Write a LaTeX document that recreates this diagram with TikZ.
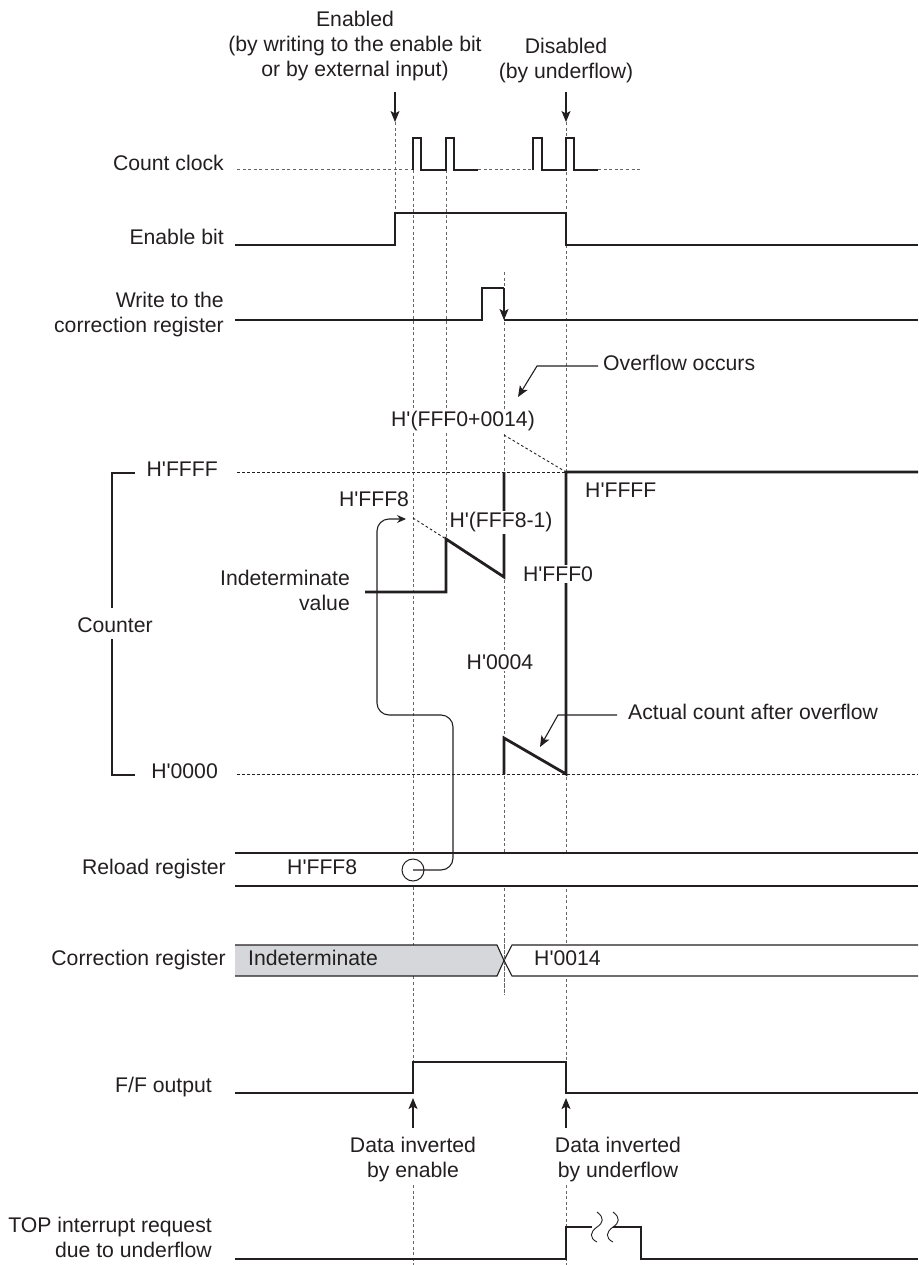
\documentclass[tikz,border=0pt]{standalone}
\usepackage{fontspec}
\setmainfont{Liberation Sans}[Ligatures=TeXOff]
\usetikzlibrary{arrows.meta}
\definecolor{ink}{RGB}{35,31,32}
\definecolor{corrgray}{RGB}{213,215,219}
\begin{document}
\begin{tikzpicture}[x=1pt,y=-1pt,
  sig/.style={line width=1.1pt, draw=ink},
  cnt/.style={line width=2.8pt, draw=ink, line join=miter},
  vdash/.style={line width=1pt, draw=black!60, dash pattern=on 3pt off 2.6pt},
  hdash/.style={line width=0.9pt, draw=ink, dash pattern=on 2.6pt off 2.4pt},
  arr/.style={line width=1.1pt, draw=ink, -{Stealth[length=11pt,width=9pt,inset=2.5pt]}},
  small arr/.style={line width=1.1pt, draw=ink, -{Stealth[length=9pt,width=8pt,inset=3pt]}},
  lbl/.style={font=\fontsize{21.2pt}{25pt}\selectfont, text=ink, inner sep=0pt},
  cover/.style={lbl, fill=white, inner sep=1.5pt},
]
\useasboundingbox (0,0) rectangle (918,1265);

% ---------- vertical guide lines ----------
\draw[vdash] (395,122) -- (395,213);
\draw[vdash] (413,170) -- (413,1062);
\draw[vdash] (413,1185) -- (413,1265);
\draw[vdash] (446,170) -- (446,539);
\draw[vdash] (504,272) -- (504,995);
\draw[vdash] (566,122) -- (566,1062);
\draw[vdash] (566,1185) -- (566,1265);

% ---------- top labels and arrows ----------
\node[lbl, align=center] (enabled) at (355,46) {Enabled\\(by writing to the enable bit\\or by external input)};
\node[lbl, align=center] (disabled) at (566,61) {Disabled\\(by underflow)};
\coordinate (ena0) at (395,92);  \coordinate (ena1) at (395,122);
\coordinate (dis0) at (566,92);  \coordinate (dis1) at (566,122);
\draw[arr] (ena0) -- (ena1);
\draw[arr] (dis0) -- (dis1);

% ---------- count clock ----------
\node[lbl, anchor=mid east] (lclk) at (224,168) {Count clock};
\draw[vdash] (237,170) -- (413,170);
\draw[sig] (413,170) -- (413,138) -- (421,138) -- (421,170) -- (446,170) -- (446,138) -- (454,138) -- (454,170) -- (478,170);
\draw[vdash] (478,170) -- (533,170);
\draw[sig] (533,170) -- (533,138) -- (542,138) -- (542,170) -- (566,170) -- (566,138) -- (574,138) -- (574,170) -- (598,170);
\draw[vdash] (598,170) -- (640,170);

% ---------- enable bit ----------
\node[lbl, anchor=mid east] (lena) at (224,242) {Enable bit};
\draw[sig] (235,245) -- (395,245) -- (395,213) -- (566,213) -- (566,245) -- (918,245);

% ---------- write to correction register ----------
\node[lbl, anchor=east, align=right] (lwr) at (224,315) {Write to the\\correction register};
\draw[sig] (235,320) -- (482,320) -- (482,288) -- (504,288);
\coordinate (wr0) at (504,288); \coordinate (wr1) at (504,320);
\draw[arr] (wr0) -- (wr1);
\draw[sig] (504,320) -- (918,320);

% ---------- counter ----------
\draw[hdash] (237,472) -- (566,472);
\draw[hdash] (237,774) -- (918,774);
\draw[hdash] (504,435) -- (566,472);
\draw[hdash] (413,518) -- (446,539);

\draw[cnt] (365,592) -- (446,592) -- (446,539) -- (504,577) -- (504,472);
\draw[cnt] (504,774) -- (504,738) -- (566,774) -- (566,472) -- (918,472);

\node[lbl, anchor=mid east] (lffff) at (218,474) {H'FFFF};
\node[lbl, anchor=mid east] (l0000) at (218,776) {H'0000};
\node[lbl] (lcounter) at (115,625) {Counter};
\draw[sig] (135,473) -- (112,473) -- (112,608);
\draw[sig] (112,639) -- (112,775) -- (135,775);

\node[lbl, anchor=mid west] (ovf) at (603,368) {Overflow occurs};
\coordinate (ovf0) at (598,366); \coordinate (ovf1) at (537,366); \coordinate (ovf2) at (518,397);
\draw[arr] (ovf0) -- (ovf1) -- (ovf2);
\node[cover, anchor=mid] (fff0p) at (463,424) {H'(FFF0+0014)};
\node[lbl, anchor=mid west] (ffffr) at (585,495) {H'FFFF};
\node[lbl, anchor=mid] (fff8) at (374,504) {H'FFF8};
\node[cover, anchor=mid] (fff8m) at (501,525) {H'(FFF8-1)};
\node[lbl, anchor=east, align=right] (indv) at (350,590) {Indeterminate\\value};
\node[cover, anchor=mid] (fff0) at (558,579) {H'FFF0};
\node[cover, anchor=mid] (h0004) at (500,667) {H'0004};
\node[lbl, anchor=mid west] (act) at (628,717) {Actual count after overflow};
\coordinate (act0) at (617,715); \coordinate (act1) at (558,715); \coordinate (act2) at (540,747);
\draw[arr] (act0) -- (act1) -- (act2);

% ---------- reload register ----------
\fill[white] (235,853) rectangle (918,886);
\draw[sig] (235,853) -- (918,853);
\draw[sig] (235,886) -- (918,886);
\node[lbl, anchor=mid east] (lrel) at (226,872) {Reload register};
\node[lbl, anchor=mid west] (relv) at (287,872) {H'FFF8};
\node[circle, draw=ink, line width=1pt, minimum size=22pt, inner sep=0pt] (rc) at (413,870) {};
\coordinate (rl1) at (453,870); \coordinate (rl2) at (453,715);
\coordinate (rl3) at (377,715); \coordinate (rl4) at (377,519); \coordinate (rl5) at (406,519);
\draw[small arr, rounded corners=12pt] (rc.center) -- (rl1) -- (rl2) -- (rl3) -- (rl4) -- (rl5);

% ---------- correction register ----------
\fill[corrgray] (235,945) -- (497,945) -- (504,960.5) -- (497,976) -- (235,976) -- cycle;
\fill[white] (918,945) -- (512,945) -- (504,960.5) -- (512,976) -- (918,976) -- cycle;
\draw[sig] (235,945) -- (497,945) -- (504,960.5) -- (497,976) -- (235,976);
\draw[sig] (918,945) -- (512,945) -- (504,960.5) -- (512,976) -- (918,976);
\draw[vdash] (504,940) -- (504,995);
\node[lbl, anchor=mid east] (lcor) at (226,963) {Correction register};
\node[lbl, anchor=mid west] (corind) at (248,963) {Indeterminate};
\node[lbl, anchor=mid west] (cor14) at (534,963) {H'0014};

% ---------- F/F output ----------
\node[lbl, anchor=mid east] (lff) at (212,1090) {F/F output};
\draw[sig] (235,1093) -- (413,1093) -- (413,1062) -- (566,1062) -- (566,1093) -- (918,1093);
\coordinate (ie0) at (413,1128); \coordinate (ie1) at (413,1098);
\coordinate (iu0) at (566,1128); \coordinate (iu1) at (566,1098);
\draw[arr] (ie0) -- (ie1);
\draw[arr] (iu0) -- (iu1);
\node[lbl, align=center] (die) at (413,1160) {Data inverted\\by enable};
\node[lbl, align=center] (diu) at (618,1160) {Data inverted\\by underflow};

% ---------- TOP interrupt ----------
\node[lbl, anchor=east, align=right] (ltop) at (212,1237) {TOP interrupt request\\due to underflow};
\draw[sig] (235,1259) -- (566,1259) -- (566,1227) -- (592,1227);
\draw[sig] (613,1227) -- (641,1227) -- (641,1259) -- (918,1259);
\draw[line width=0.9pt, draw=ink] (597,1212) .. controls (605,1218) and (603,1223) .. (597,1227) .. controls (590,1232) and (589,1238) .. (597,1242);
\draw[line width=0.9pt, draw=ink] (613,1212) .. controls (621,1218) and (619,1223) .. (613,1227) .. controls (606,1232) and (605,1238) .. (613,1242);
\end{tikzpicture}
\end{document}
